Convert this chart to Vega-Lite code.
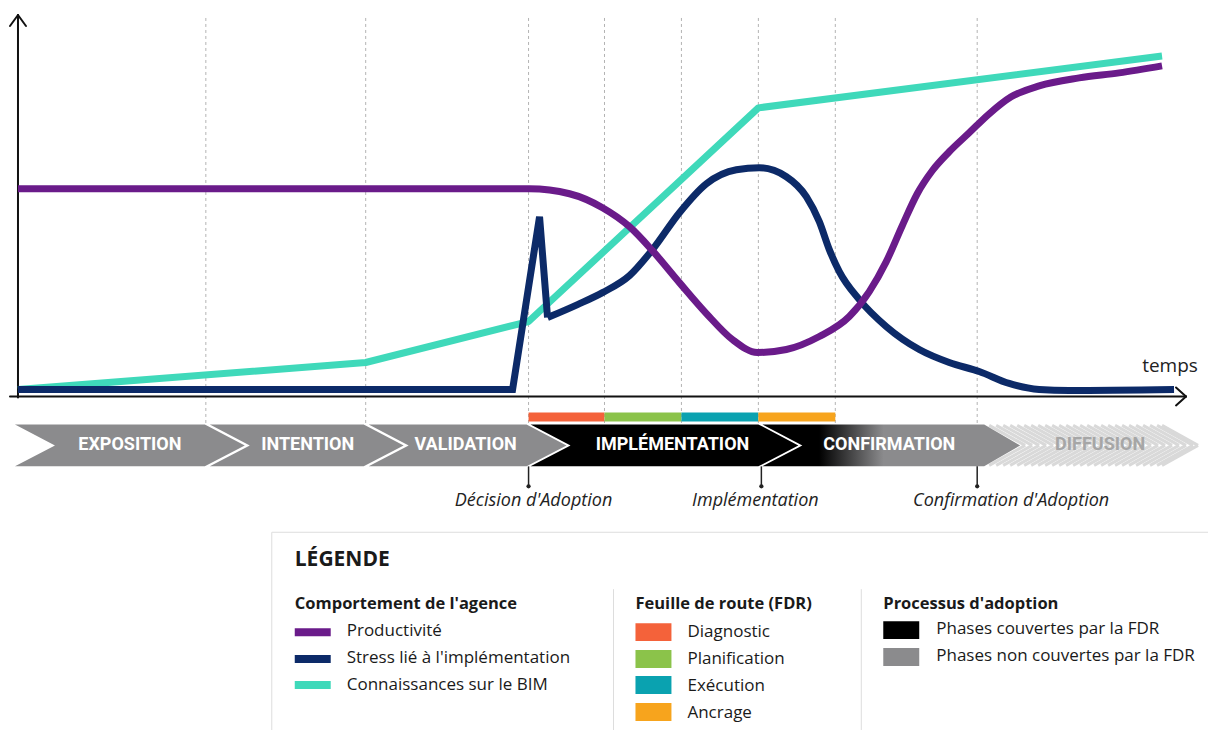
{
  "$schema": "https://vega.github.io/schema/vega-lite/v6.json",
  "width": 1209,
  "height": 731,
  "autosize": {"type": "fit", "contains": "padding"},
  "padding": 0,
  "background": "white",
  "config": {"view": {"stroke": null}},
  "datasets": {
    "grid": [{"x": 206}, {"x": 366}, {"x": 529}, {"x": 605}, {"x": 682}, {"x": 759}, {"x": 836}, {"x": 978}],
    "fdr": [
      {"x": 529, "x2": 605, "cat": "Diagnostic"},
      {"x": 605, "x2": 682, "cat": "Planification"},
      {"x": 682, "x2": 759, "cat": "Exécution"},
      {"x": 759, "x2": 836, "cat": "Ancrage"}
    ],
    "chev": [
      {"ph": "EXPOSITION", "cat": "NonCouvertes", "y": 425, "x": 15, "x2": 205},
      {"ph": "EXPOSITION", "cat": "NonCouvertes", "y": 446, "x": 55, "x2": 245},
      {"ph": "EXPOSITION", "cat": "NonCouvertes", "y": 467, "x": 15, "x2": 205},
      {"ph": "INTENTION", "cat": "NonCouvertes", "y": 425, "x": 210, "x2": 364},
      {"ph": "INTENTION", "cat": "NonCouvertes", "y": 446, "x": 250, "x2": 404},
      {"ph": "INTENTION", "cat": "NonCouvertes", "y": 467, "x": 210, "x2": 364},
      {"ph": "VALIDATION", "cat": "NonCouvertes", "y": 425, "x": 369, "x2": 527},
      {"ph": "VALIDATION", "cat": "NonCouvertes", "y": 446, "x": 409, "x2": 567},
      {"ph": "VALIDATION", "cat": "NonCouvertes", "y": 467, "x": 369, "x2": 527},
      {"ph": "IMPLEMENTATION", "cat": "Couvertes", "y": 425, "x": 531, "x2": 759},
      {"ph": "IMPLEMENTATION", "cat": "Couvertes", "y": 446, "x": 571, "x2": 799},
      {"ph": "IMPLEMENTATION", "cat": "Couvertes", "y": 467, "x": 531, "x2": 759}
    ],
    "conf": [
      {"y": 425, "x": 763, "x2": 985},
      {"y": 446, "x": 803, "x2": 1021},
      {"y": 467, "x": 763, "x2": 985}
    ],
    "stripes": [
      {"x": 990, "xt": 1026}, {"x": 997, "xt": 1033}, {"x": 1004, "xt": 1040}, {"x": 1011, "xt": 1047},
      {"x": 1018, "xt": 1054}, {"x": 1025, "xt": 1061}, {"x": 1032, "xt": 1068}, {"x": 1039, "xt": 1075},
      {"x": 1046, "xt": 1082}, {"x": 1053, "xt": 1089}, {"x": 1060, "xt": 1096}, {"x": 1067, "xt": 1103},
      {"x": 1074, "xt": 1110}, {"x": 1081, "xt": 1117}, {"x": 1088, "xt": 1124}, {"x": 1095, "xt": 1131},
      {"x": 1102, "xt": 1138}, {"x": 1109, "xt": 1145}, {"x": 1116, "xt": 1152}, {"x": 1123, "xt": 1159},
      {"x": 1130, "xt": 1166}, {"x": 1137, "xt": 1173}, {"x": 1144, "xt": 1180}, {"x": 1151, "xt": 1187},
      {"x": 1158, "xt": 1194}, {"x": 1163, "xt": 1199}
    ],
    "phases": [
      {"x": 130, "label": "EXPOSITION"},
      {"x": 308, "label": "INTENTION"},
      {"x": 466, "label": "VALIDATION"},
      {"x": 673, "label": "IMPLÉMENTATION"},
      {"x": 890, "label": "CONFIRMATION"},
      {"x": 1101, "label": "DIFFUSION"}
    ],
    "axes": [
      {"x": 18, "y": 398, "x2": 18, "y2": 15},
      {"x": 10, "y": 26, "x2": 18, "y2": 15},
      {"x": 18, "y": 15, "x2": 26, "y2": 26},
      {"x": 10, "y": 397, "x2": 1187, "y2": 397},
      {"x": 1177, "y": 388, "x2": 1187, "y2": 397},
      {"x": 1187, "y": 397, "x2": 1177, "y2": 406}
    ],
    "curves": [
      {"part": "k", "cat": "Connaissances", "x": 18, "y": 390},
      {"part": "k", "cat": "Connaissances", "x": 366, "y": 363},
      {"part": "k", "cat": "Connaissances", "x": 529, "y": 322},
      {"part": "k", "cat": "Connaissances", "x": 759, "y": 108},
      {"part": "k", "cat": "Connaissances", "x": 1163, "y": 56},
      {"part": "s1", "cat": "Stress", "x": 18, "y": 390},
      {"part": "s1", "cat": "Stress", "x": 513, "y": 390},
      {"part": "s1", "cat": "Stress", "x": 540, "y": 217},
      {"part": "s1", "cat": "Stress", "x": 548, "y": 318},
      {"part": "s2", "cat": "Stress", "x": 548, "y": 318},
      {"part": "s2", "cat": "Stress", "x": 578, "y": 305},
      {"part": "s2", "cat": "Stress", "x": 603, "y": 293},
      {"part": "s2", "cat": "Stress", "x": 630, "y": 276},
      {"part": "s2", "cat": "Stress", "x": 653, "y": 250},
      {"part": "s2", "cat": "Stress", "x": 680, "y": 213},
      {"part": "s2", "cat": "Stress", "x": 707, "y": 184},
      {"part": "s2", "cat": "Stress", "x": 737, "y": 170},
      {"part": "s2", "cat": "Stress", "x": 760, "y": 168},
      {"part": "s2", "cat": "Stress", "x": 787, "y": 177},
      {"part": "s2", "cat": "Stress", "x": 807, "y": 197},
      {"part": "s2", "cat": "Stress", "x": 820, "y": 222},
      {"part": "s2", "cat": "Stress", "x": 830, "y": 250},
      {"part": "s2", "cat": "Stress", "x": 840, "y": 272},
      {"part": "s2", "cat": "Stress", "x": 860, "y": 300},
      {"part": "s2", "cat": "Stress", "x": 887, "y": 327},
      {"part": "s2", "cat": "Stress", "x": 920, "y": 350},
      {"part": "s2", "cat": "Stress", "x": 950, "y": 363},
      {"part": "s2", "cat": "Stress", "x": 980, "y": 372},
      {"part": "s2", "cat": "Stress", "x": 1010, "y": 384},
      {"part": "s2", "cat": "Stress", "x": 1040, "y": 390},
      {"part": "s2", "cat": "Stress", "x": 1070, "y": 391},
      {"part": "s2", "cat": "Stress", "x": 1175, "y": 390},
      {"part": "p", "cat": "Productivité", "x": 18, "y": 189},
      {"part": "p", "cat": "Productivité", "x": 530, "y": 189},
      {"part": "p", "cat": "Productivité", "x": 570, "y": 194},
      {"part": "p", "cat": "Productivité", "x": 603, "y": 208},
      {"part": "p", "cat": "Productivité", "x": 630, "y": 227},
      {"part": "p", "cat": "Productivité", "x": 653, "y": 251},
      {"part": "p", "cat": "Productivité", "x": 680, "y": 283},
      {"part": "p", "cat": "Productivité", "x": 707, "y": 314},
      {"part": "p", "cat": "Productivité", "x": 733, "y": 340},
      {"part": "p", "cat": "Productivité", "x": 758, "y": 353},
      {"part": "p", "cat": "Productivité", "x": 787, "y": 350},
      {"part": "p", "cat": "Productivité", "x": 820, "y": 337},
      {"part": "p", "cat": "Productivité", "x": 850, "y": 317},
      {"part": "p", "cat": "Productivité", "x": 870, "y": 292},
      {"part": "p", "cat": "Productivité", "x": 887, "y": 262},
      {"part": "p", "cat": "Productivité", "x": 903, "y": 226},
      {"part": "p", "cat": "Productivité", "x": 918, "y": 194},
      {"part": "p", "cat": "Productivité", "x": 933, "y": 171},
      {"part": "p", "cat": "Productivité", "x": 950, "y": 152},
      {"part": "p", "cat": "Productivité", "x": 970, "y": 133},
      {"part": "p", "cat": "Productivité", "x": 990, "y": 114},
      {"part": "p", "cat": "Productivité", "x": 1012, "y": 97},
      {"part": "p", "cat": "Productivité", "x": 1040, "y": 86},
      {"part": "p", "cat": "Productivité", "x": 1080, "y": 78},
      {"part": "p", "cat": "Productivité", "x": 1120, "y": 73},
      {"part": "p", "cat": "Productivité", "x": 1163, "y": 66}
    ],
    "milestones": [
      {"x": 529, "lx": 534, "label": "Décision d'Adoption"},
      {"x": 762, "lx": 756, "label": "Implémentation"},
      {"x": 978, "lx": 1012, "label": "Confirmation d'Adoption"}
    ],
    "annot": [{"x": 1171, "y": 367, "label": "temps"}],
    "legendLines": [
      {"x": 272, "y": 533, "x2": 1209, "y2": 533},
      {"x": 272, "y": 533, "x2": 272, "y2": 731},
      {"x": 614, "y": 590, "x2": 614, "y2": 731},
      {"x": 862, "y": 590, "x2": 862, "y2": 731}
    ],
    "swatches": [
      {"x": 295, "x2": 331, "y": 629, "y2": 637, "cat": "Productivité"},
      {"x": 295, "x2": 331, "y": 656, "y2": 664, "cat": "Stress"},
      {"x": 295, "x2": 331, "y": 682, "y2": 690, "cat": "Connaissances"},
      {"x": 636, "x2": 672, "y": 624, "y2": 642, "cat": "Diagnostic"},
      {"x": 636, "x2": 672, "y": 651, "y2": 669, "cat": "Planification"},
      {"x": 636, "x2": 672, "y": 677, "y2": 695, "cat": "Exécution"},
      {"x": 636, "x2": 672, "y": 704, "y2": 722, "cat": "Ancrage"},
      {"x": 884, "x2": 920, "y": 622, "y2": 640, "cat": "Couvertes"},
      {"x": 884, "x2": 920, "y": 649, "y2": 667, "cat": "NonCouvertes"}
    ],
    "headers": [
      {"x": 295, "y": 605, "label": "Comportement de l'agence"},
      {"x": 636, "y": 605, "label": "Feuille de route (FDR)"},
      {"x": 884, "y": 605, "label": "Processus d'adoption"}
    ],
    "items": [
      {"x": 347, "y": 632, "label": "Productivité"},
      {"x": 347, "y": 659, "label": "Stress lié à l'implémentation"},
      {"x": 347, "y": 686, "label": "Connaissances sur le BIM"},
      {"x": 688, "y": 633, "label": "Diagnostic"},
      {"x": 688, "y": 660, "label": "Planification"},
      {"x": 688, "y": 687, "label": "Exécution"},
      {"x": 688, "y": 714, "label": "Ancrage"},
      {"x": 937, "y": 630, "label": "Phases couvertes par la FDR"},
      {"x": 937, "y": 657, "label": "Phases non couvertes par la FDR"}
    ],
    "title": [{"x": 295, "y": 561, "label": "LÉGENDE"}]
  },
  "layer": [
    {
      "data": {"name": "grid"},
      "mark": {"type": "rule", "color": "#b3b3b3", "strokeWidth": 1, "strokeDash": [3, 3]},
      "encoding": {
        "x": {"field": "x", "type": "quantitative", "scale": {"domain": [0, 1209], "nice": false, "zero": false}, "axis": null},
        "y": {"datum": 18, "type": "quantitative", "scale": {"domain": [0, 731], "reverse": true, "nice": false, "zero": false}, "axis": null},
        "y2": {"datum": 425}
      }
    },
    {
      "data": {"name": "fdr"},
      "mark": {"type": "rect"},
      "encoding": {
        "x": {"field": "x", "type": "quantitative", "scale": {"domain": [0, 1209], "nice": false, "zero": false}, "axis": null},
        "x2": {"field": "x2"},
        "y": {"datum": 413, "type": "quantitative", "scale": {"domain": [0, 731], "reverse": true, "nice": false, "zero": false}, "axis": null},
        "y2": {"datum": 422},
        "color": {"field": "cat", "type": "nominal", "legend": null, "scale": {"domain": ["Productivité", "Stress", "Connaissances", "Diagnostic", "Planification", "Exécution", "Ancrage", "Couvertes", "NonCouvertes"], "range": ["#6a1b8a", "#0c2a68", "#3fd9ba", "#f4623a", "#8bc34a", "#0aa2b0", "#f7a41d", "#000000", "#8b8b8d"]}}
      }
    },
    {
      "data": {"name": "chev"},
      "mark": {"type": "area", "orient": "horizontal", "opacity": 1},
      "encoding": {
        "x": {"field": "x", "type": "quantitative", "stack": null, "scale": {"domain": [0, 1209], "nice": false, "zero": false}, "axis": null},
        "x2": {"field": "x2"},
        "y": {"field": "y", "type": "quantitative", "scale": {"domain": [0, 731], "reverse": true, "nice": false, "zero": false}, "axis": null},
        "detail": {"field": "ph"},
        "color": {"field": "cat", "type": "nominal", "legend": null, "scale": {"domain": ["Productivité", "Stress", "Connaissances", "Diagnostic", "Planification", "Exécution", "Ancrage", "Couvertes", "NonCouvertes"], "range": ["#6a1b8a", "#0c2a68", "#3fd9ba", "#f4623a", "#8bc34a", "#0aa2b0", "#f7a41d", "#000000", "#8b8b8d"]}}
      }
    },
    {
      "data": {"name": "stripes"},
      "mark": {"type": "rule", "color": "#d9d9d9", "strokeWidth": 3},
      "encoding": {
        "x": {"field": "x", "type": "quantitative", "scale": {"domain": [0, 1209], "nice": false, "zero": false}, "axis": null},
        "x2": {"field": "xt"},
        "y": {"datum": 426, "type": "quantitative", "scale": {"domain": [0, 731], "reverse": true, "nice": false, "zero": false}, "axis": null},
        "y2": {"datum": 446}
      }
    },
    {
      "data": {"name": "stripes"},
      "mark": {"type": "rule", "color": "#d9d9d9", "strokeWidth": 3},
      "encoding": {
        "x": {"field": "xt", "type": "quantitative", "scale": {"domain": [0, 1209], "nice": false, "zero": false}, "axis": null},
        "x2": {"field": "x"},
        "y": {"datum": 446, "type": "quantitative", "scale": {"domain": [0, 731], "reverse": true, "nice": false, "zero": false}, "axis": null},
        "y2": {"datum": 466}
      }
    },
    {
      "data": {"name": "conf"},
      "mark": {"type": "area", "orient": "horizontal", "opacity": 1, "color": {"gradient": "linear", "x1": 0, "y1": 0, "x2": 1, "y2": 0, "stops": [{"offset": 0, "color": "#000000"}, {"offset": 0.22, "color": "#000000"}, {"offset": 0.47, "color": "#8b8b8d"}, {"offset": 1, "color": "#8b8b8d"}]}},
      "encoding": {
        "x": {"field": "x", "type": "quantitative", "stack": null, "scale": {"domain": [0, 1209], "nice": false, "zero": false}, "axis": null},
        "x2": {"field": "x2"},
        "y": {"field": "y", "type": "quantitative", "scale": {"domain": [0, 731], "reverse": true, "nice": false, "zero": false}, "axis": null}
      }
    },
    {
      "data": {"name": "phases"},
      "mark": {"type": "text", "font": "Roboto", "fontWeight": "bold", "fontSize": 18, "align": "center", "baseline": "middle"},
      "encoding": {
        "x": {"field": "x", "type": "quantitative", "scale": {"domain": [0, 1209], "nice": false, "zero": false}, "axis": null},
        "y": {"datum": 446, "type": "quantitative", "scale": {"domain": [0, 731], "reverse": true, "nice": false, "zero": false}, "axis": null},
        "text": {"field": "label"},
        "color": {"condition": {"test": "datum.label === 'DIFFUSION'", "value": "#a6a6a6"}, "value": "#ffffff"}
      }
    },
    {
      "data": {"name": "axes"},
      "mark": {"type": "rule", "color": "#111111", "strokeWidth": 2, "strokeCap": "round"},
      "encoding": {
        "x": {"field": "x", "type": "quantitative", "scale": {"domain": [0, 1209], "nice": false, "zero": false}, "axis": null},
        "x2": {"field": "x2"},
        "y": {"field": "y", "type": "quantitative", "scale": {"domain": [0, 731], "reverse": true, "nice": false, "zero": false}, "axis": null},
        "y2": {"field": "y2"}
      }
    },
    {
      "data": {"name": "curves"},
      "transform": [{"filter": "datum.part === 'k'"}],
      "mark": {"type": "line", "strokeWidth": 7, "interpolate": "linear", "strokeJoin": "round"},
      "encoding": {
        "x": {"field": "x", "type": "quantitative", "scale": {"domain": [0, 1209], "nice": false, "zero": false}, "axis": null},
        "y": {"field": "y", "type": "quantitative", "scale": {"domain": [0, 731], "reverse": true, "nice": false, "zero": false}, "axis": null},
        "color": {"field": "cat", "type": "nominal", "legend": null, "scale": {"domain": ["Productivité", "Stress", "Connaissances", "Diagnostic", "Planification", "Exécution", "Ancrage", "Couvertes", "NonCouvertes"], "range": ["#6a1b8a", "#0c2a68", "#3fd9ba", "#f4623a", "#8bc34a", "#0aa2b0", "#f7a41d", "#000000", "#8b8b8d"]}}
      }
    },
    {
      "data": {"name": "curves"},
      "transform": [{"filter": "datum.part === 's1'"}],
      "mark": {"type": "line", "strokeWidth": 7, "interpolate": "linear", "strokeJoin": "miter"},
      "encoding": {
        "x": {"field": "x", "type": "quantitative", "scale": {"domain": [0, 1209], "nice": false, "zero": false}, "axis": null},
        "y": {"field": "y", "type": "quantitative", "scale": {"domain": [0, 731], "reverse": true, "nice": false, "zero": false}, "axis": null},
        "color": {"field": "cat", "type": "nominal", "legend": null, "scale": {"domain": ["Productivité", "Stress", "Connaissances", "Diagnostic", "Planification", "Exécution", "Ancrage", "Couvertes", "NonCouvertes"], "range": ["#6a1b8a", "#0c2a68", "#3fd9ba", "#f4623a", "#8bc34a", "#0aa2b0", "#f7a41d", "#000000", "#8b8b8d"]}}
      }
    },
    {
      "data": {"name": "curves"},
      "transform": [{"filter": "datum.part === 's2'"}],
      "mark": {"type": "line", "strokeWidth": 7, "interpolate": "monotone"},
      "encoding": {
        "x": {"field": "x", "type": "quantitative", "scale": {"domain": [0, 1209], "nice": false, "zero": false}, "axis": null},
        "y": {"field": "y", "type": "quantitative", "scale": {"domain": [0, 731], "reverse": true, "nice": false, "zero": false}, "axis": null},
        "color": {"field": "cat", "type": "nominal", "legend": null, "scale": {"domain": ["Productivité", "Stress", "Connaissances", "Diagnostic", "Planification", "Exécution", "Ancrage", "Couvertes", "NonCouvertes"], "range": ["#6a1b8a", "#0c2a68", "#3fd9ba", "#f4623a", "#8bc34a", "#0aa2b0", "#f7a41d", "#000000", "#8b8b8d"]}}
      }
    },
    {
      "data": {"name": "curves"},
      "transform": [{"filter": "datum.part === 'p'"}],
      "mark": {"type": "line", "strokeWidth": 7, "interpolate": "monotone"},
      "encoding": {
        "x": {"field": "x", "type": "quantitative", "scale": {"domain": [0, 1209], "nice": false, "zero": false}, "axis": null},
        "y": {"field": "y", "type": "quantitative", "scale": {"domain": [0, 731], "reverse": true, "nice": false, "zero": false}, "axis": null},
        "color": {"field": "cat", "type": "nominal", "legend": null, "scale": {"domain": ["Productivité", "Stress", "Connaissances", "Diagnostic", "Planification", "Exécution", "Ancrage", "Couvertes", "NonCouvertes"], "range": ["#6a1b8a", "#0c2a68", "#3fd9ba", "#f4623a", "#8bc34a", "#0aa2b0", "#f7a41d", "#000000", "#8b8b8d"]}}
      }
    },
    {
      "data": {"name": "milestones"},
      "mark": {"type": "rule", "color": "#222222", "strokeWidth": 1.5},
      "encoding": {
        "x": {"field": "x", "type": "quantitative", "scale": {"domain": [0, 1209], "nice": false, "zero": false}, "axis": null},
        "y": {"datum": 467, "type": "quantitative", "scale": {"domain": [0, 731], "reverse": true, "nice": false, "zero": false}, "axis": null},
        "y2": {"datum": 486}
      }
    },
    {
      "data": {"name": "milestones"},
      "mark": {"type": "point", "filled": true, "color": "#222222", "size": 18, "opacity": 1},
      "encoding": {
        "x": {"field": "x", "type": "quantitative", "scale": {"domain": [0, 1209], "nice": false, "zero": false}, "axis": null},
        "y": {"datum": 487, "type": "quantitative", "scale": {"domain": [0, 731], "reverse": true, "nice": false, "zero": false}, "axis": null}
      }
    },
    {
      "data": {"name": "milestones"},
      "mark": {"type": "text", "font": "Open Sans", "fontStyle": "italic", "fontSize": 18, "color": "#222222", "align": "center", "baseline": "middle"},
      "encoding": {
        "x": {"field": "lx", "type": "quantitative", "scale": {"domain": [0, 1209], "nice": false, "zero": false}, "axis": null},
        "y": {"datum": 502, "type": "quantitative", "scale": {"domain": [0, 731], "reverse": true, "nice": false, "zero": false}, "axis": null},
        "text": {"field": "label"}
      }
    },
    {
      "data": {"name": "annot"},
      "mark": {"type": "text", "font": "Open Sans", "fontSize": 19, "color": "#222222", "align": "center", "baseline": "middle"},
      "encoding": {
        "x": {"field": "x", "type": "quantitative", "scale": {"domain": [0, 1209], "nice": false, "zero": false}, "axis": null},
        "y": {"field": "y", "type": "quantitative", "scale": {"domain": [0, 731], "reverse": true, "nice": false, "zero": false}, "axis": null},
        "text": {"field": "label"}
      }
    },
    {
      "data": {"name": "legendLines"},
      "mark": {"type": "rule", "color": "#dddddd", "strokeWidth": 1},
      "encoding": {
        "x": {"field": "x", "type": "quantitative", "scale": {"domain": [0, 1209], "nice": false, "zero": false}, "axis": null},
        "x2": {"field": "x2"},
        "y": {"field": "y", "type": "quantitative", "scale": {"domain": [0, 731], "reverse": true, "nice": false, "zero": false}, "axis": null},
        "y2": {"field": "y2"}
      }
    },
    {
      "data": {"name": "swatches"},
      "mark": {"type": "rect"},
      "encoding": {
        "x": {"field": "x", "type": "quantitative", "scale": {"domain": [0, 1209], "nice": false, "zero": false}, "axis": null},
        "x2": {"field": "x2"},
        "y": {"field": "y", "type": "quantitative", "scale": {"domain": [0, 731], "reverse": true, "nice": false, "zero": false}, "axis": null},
        "y2": {"field": "y2"},
        "color": {"field": "cat", "type": "nominal", "legend": null, "scale": {"domain": ["Productivité", "Stress", "Connaissances", "Diagnostic", "Planification", "Exécution", "Ancrage", "Couvertes", "NonCouvertes"], "range": ["#6a1b8a", "#0c2a68", "#3fd9ba", "#f4623a", "#8bc34a", "#0aa2b0", "#f7a41d", "#000000", "#8b8b8d"]}}
      }
    },
    {
      "data": {"name": "headers"},
      "mark": {"type": "text", "font": "Open Sans", "fontWeight": "bold", "fontSize": 16.5, "color": "#1a1a1a", "align": "left", "baseline": "middle"},
      "encoding": {
        "x": {"field": "x", "type": "quantitative", "scale": {"domain": [0, 1209], "nice": false, "zero": false}, "axis": null},
        "y": {"field": "y", "type": "quantitative", "scale": {"domain": [0, 731], "reverse": true, "nice": false, "zero": false}, "axis": null},
        "text": {"field": "label"}
      }
    },
    {
      "data": {"name": "items"},
      "mark": {"type": "text", "font": "Open Sans", "fontSize": 17, "color": "#1a1a1a", "align": "left", "baseline": "middle"},
      "encoding": {
        "x": {"field": "x", "type": "quantitative", "scale": {"domain": [0, 1209], "nice": false, "zero": false}, "axis": null},
        "y": {"field": "y", "type": "quantitative", "scale": {"domain": [0, 731], "reverse": true, "nice": false, "zero": false}, "axis": null},
        "text": {"field": "label"}
      }
    },
    {
      "data": {"name": "title"},
      "mark": {"type": "text", "font": "Open Sans", "fontWeight": "bold", "fontSize": 21, "color": "#1a1a1a", "align": "left", "baseline": "middle"},
      "encoding": {
        "x": {"field": "x", "type": "quantitative", "scale": {"domain": [0, 1209], "nice": false, "zero": false}, "axis": null},
        "y": {"field": "y", "type": "quantitative", "scale": {"domain": [0, 731], "reverse": true, "nice": false, "zero": false}, "axis": null},
        "text": {"field": "label"}
      }
    }
  ]
}
